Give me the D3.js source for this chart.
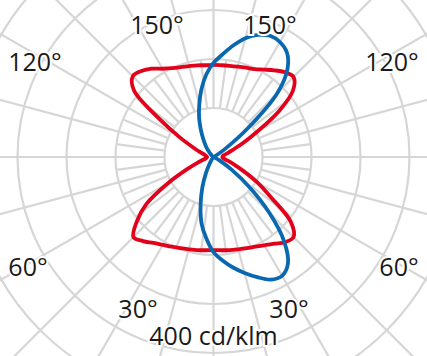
<!DOCTYPE html>
<html>
<head>
<meta charset="utf-8">
<script src="https://cdn.jsdelivr.net/npm/d3@7"></script>
<style>
  body { margin: 0; background: #fff; }
  text { font-family: "Open Sans", sans-serif; fill: #1a1a1a; }
</style>
</head>
<body>
<script>
// gamma angles in 5° steps: 0 = straight down, 180 = straight up
var gammas = d3.range(0, 181, 5);

// red plane, cd/klm, right half and left half of the diagram
var redRight = [190, 191, 193, 195, 198, 202, 208, 216, 227, 231, 206, 143, 102, 67, 45, 31, 22, 19, 18,
                19, 22, 29, 41, 65, 102, 163, 212, 231, 226, 216, 206, 198, 194, 191, 189, 188, 188];
var redLeft  = [190, 191, 193, 195, 198, 202, 207, 214, 224, 231, 204, 167, 108, 61, 35, 22, 16, 14, 13,
                14, 16, 20, 29, 45, 78, 133, 212, 233, 229, 220, 208, 200, 195, 192, 190, 188, 188];

// blue plane, cd/klm
var blueRight = [194, 212, 229, 245, 261, 276, 280, 265, 224, 161, 96, 45, 14, 4, 0, 0, 0, 0, 0,
                 0, 0, 0, 0, 0, 6, 29, 92, 184, 235, 261, 271, 273, 265, 251, 231, 210, 192];
var blueLeft  = [194, 167, 139, 102, 67, 37, 16, 6, 2, 0, 0, 0, 0, 0, 0, 0, 0, 0, 0,
                 0, 0, 0, 0, 0, 0, 0, 4, 8, 16, 27, 41, 61, 86, 112, 141, 169, 192];

var rings = [100, 200, 300, 400, 500, 600];
var angleLabels = ["150°", "120°", "60°", "30°"];
var unitLabel = "400 cd/klm";

var width = 427, height = 356;
var cx = 213.5, cy = 157;

var svg = d3.select("body").append("svg")
    .attr("width", width)
    .attr("height", height);

var r = d3.scaleLinear()
    .domain([0, 100])
    .range([0, 49]);

var g = svg.append("g")
    .attr("transform", "translate(" + cx + "," + cy + ")");

// grid
var grid = g.append("g")
    .attr("fill", "none")
    .attr("stroke", "#d6d6d6")
    .attr("stroke-width", 2.2);

grid.selectAll("circle")
    .data(rings)
    .enter()
    .append("circle")
    .attr("r", d => r(d));

// spokes every 15° from the first ring outwards
var spokes = d3.range(0, 360, 15);
grid.selectAll("line.major")
    .data(spokes)
    .enter()
    .append("line")
    .attr("class", "major")
    .attr("x1", d => r(100) * Math.sin(d * Math.PI / 180))
    .attr("y1", d => r(100) * Math.cos(d * Math.PI / 180))
    .attr("x2", d => r(700) * Math.sin(d * Math.PI / 180))
    .attr("y2", d => r(700) * Math.cos(d * Math.PI / 180));

// in between ones only between ring 1 and ring 2
var minor = d3.range(7.5, 360, 15);
grid.selectAll("line.minor")
    .data(minor)
    .enter()
    .append("line")
    .attr("class", "minor")
    .attr("x1", d => r(100) * Math.sin(d * Math.PI / 180))
    .attr("y1", d => r(100) * Math.cos(d * Math.PI / 180))
    .attr("x2", d => r(200) * Math.sin(d * Math.PI / 180))
    .attr("y2", d => r(200) * Math.cos(d * Math.PI / 180));

// right half: gamma g -> angle PI - g ; left half: PI + g
function curvePoints(right, left) {
    var pts = [];
    gammas.forEach(function(gm, i) {
        pts.push([Math.PI - gm * Math.PI / 180, r(right[i])]);
    });
    for (var i = gammas.length - 2; i > 0; i--) {
        pts.push([Math.PI + gammas[i] * Math.PI / 180, r(left[i])]);
    }
    return pts;
}

var radial = d3.lineRadial()
    .angle(d => d[0])
    .radius(d => d[1])
    .curve(d3.curveCatmullRomClosed.alpha(0.5));

var series = [
    {name: "red", color: "#e2001a", pts: curvePoints(redRight, redLeft)},
    {name: "blue", color: "#0a68b0", pts: curvePoints(blueRight, blueLeft)}
];

g.selectAll("path.curve")
    .data(series)
    .enter()
    .append("path")
    .attr("class", "curve")
    .attr("fill", "none")
    .attr("stroke", d => d.color)
    .attr("stroke-width", 3.8)
    .attr("stroke-linejoin", "round")
    .attr("d", d => radial(d.pts));

// angle labels, left and right
var labelPos = [[56.5, -132], [178.5, -95.5], [185.5, 110], [75.5, 152]];
angleLabels.forEach(function(t, i) {
    [-1, 1].forEach(function(s) {
        g.append("text")
            .attr("x", s * labelPos[i][0])
            .attr("y", labelPos[i][1])
            .attr("dy", "0.36em")
            .attr("text-anchor", "middle")
            .attr("font-size", 25)
            .attr("stroke", "#fff")
            .attr("stroke-width", 4)
            .attr("paint-order", "stroke")
            .text(t);
    });
});

g.append("text")
    .attr("x", 0)
    .attr("y", 188)
    .attr("text-anchor", "middle")
    .attr("font-size", 25)
    .attr("stroke", "#fff")
    .attr("stroke-width", 4)
    .attr("paint-order", "stroke")
    .text(unitLabel);
</script>
</body>
</html>
